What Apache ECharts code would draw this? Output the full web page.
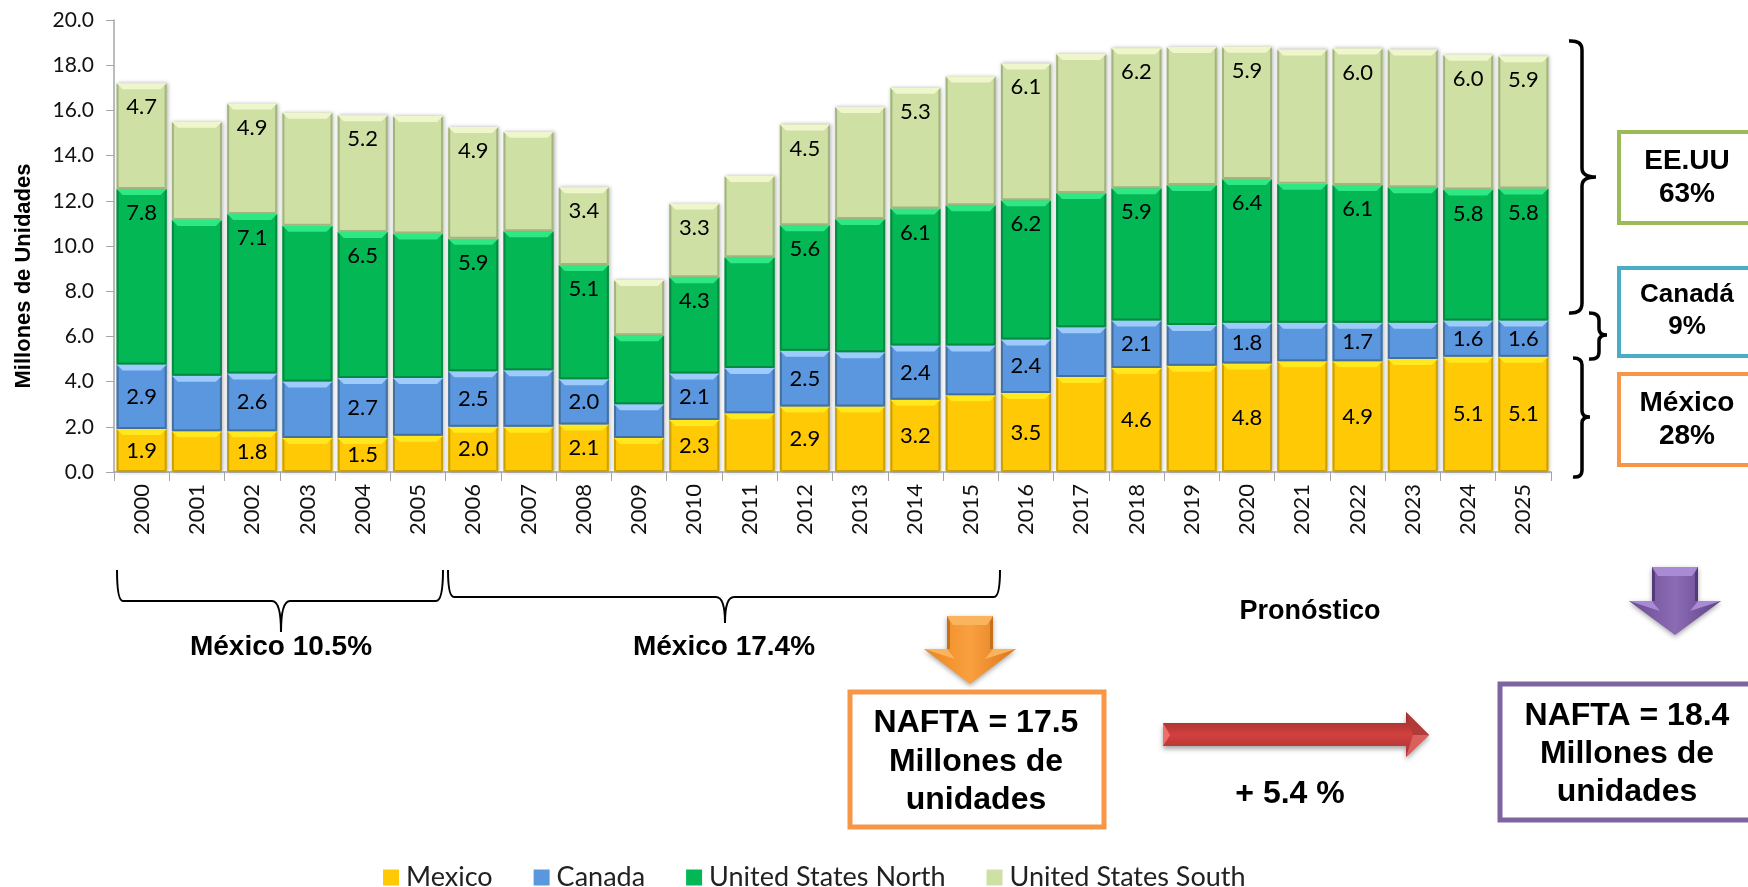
<!DOCTYPE html>
<html>
<head>
<meta charset="utf-8">
<title>NAFTA</title>
<script src="https://cdn.jsdelivr.net/npm/echarts@6/dist/echarts.min.js"></script>
<style>
	html, body { margin: 0; padding: 0; background: #fff; }
	#chart { width: 1748px; height: 887px; }
</style>
</head>
<body>
<div id="chart"></div>
<script>
const years = ['2000','2001','2002','2003','2004','2005','2006','2007','2008','2009','2010','2011','2012','2013','2014','2015','2016','2017','2018','2019','2020','2021','2022','2023','2024','2025']
const yTicks = [0, 2, 4, 6, 8, 10, 12, 14, 16, 18, 20]
const mexico = [1.9,1.8,1.8,1.5,1.5,1.6,2.0,2.0,2.1,1.5,2.3,2.6,2.9,2.9,3.2,3.4,3.5,4.2,4.6,4.7,4.8,4.9,4.9,5.0,5.1,5.1]
const canada = [2.86,2.46,2.56,2.5,2.66,2.56,2.46,2.5,2.0,1.5,2.06,2.0,2.46,2.4,2.4,2.2,2.36,2.2,2.1,1.8,1.8,1.7,1.7,1.6,1.6,1.6]
const usNorth = [7.76,6.89,7.06,6.9,6.46,6.39,5.86,6.15,5.06,3.05,4.26,4.9,5.56,5.9,6.06,6.2,6.16,5.95,5.86,6.2,6.36,6.15,6.1,6.0,5.8,5.84]
const usSouth = [4.68,4.35,4.88,5.0,5.16,5.2,4.94,4.4,3.44,2.45,3.26,3.6,4.46,4.95,5.34,5.7,6.06,6.15,6.19,6.1,5.86,5.95,6.04,6.1,5.96,5.86]
// only these years carry a value label in the original
const labeledYears = ['2000','2002','2004','2006','2008','2010','2012','2014','2016','2018','2020','2022','2024','2025']

const stacks = [
	{ name: 'Mexico', data: mexico, color: '#FFC905', light: '#FFE81E', dark: '#C9A008', inner: false },
	{ name: 'Canada', data: canada, color: '#5B97DF', light: '#9DCBFB', dark: '#44709F', inner: false },
	{ name: 'United States North', data: usNorth, color: '#04B755', light: '#2EE883', dark: '#068A42', inner: true },
	{ name: 'United States South', data: usSouth, color: '#CFE0A5', light: '#EFF6CC', dark: '#A3B47F', inner: true }
]

const BAR_W = 50
const LABEL_FONT = 'Lato'
const BOLD_FONT = '"Liberation Sans"'

// bevel on top of each stacked bar: item = [category, base, top, stack index]
const bevelData = []
stacks.forEach((s, si) => {
	s.data.forEach((v, i) => {
		let base = 0
		for (let k = 0; k < si; k++) base += stacks[k].data[i]
		bevelData.push([i, base, base + v, si])
	})
})

const renderBevel = (params, api) => {
	const top = api.coord([api.value(0), api.value(2)])
	const bottom = api.coord([api.value(0), api.value(1)])
	const s = stacks[api.value(3)]
	const l = top[0] - BAR_W / 2
	const r = top[0] + BAR_W / 2
	const t = top[1]
	const b = bottom[1]
	const poly = (points, fill) => ({ type: 'polygon', shape: { points }, style: { fill } })
	return {
		type: 'group',
		children: [
			poly([[l, t], [l + 2, t + 2], [l + 2, b - 2], [l, b]], s.dark),
			poly([[r, t], [r - 2, t + 2], [r - 2, b - 2], [r, b]], s.dark),
			poly([[l, b], [l + 2, b - 2], [r - 2, b - 2], [r, b]], s.dark),
			poly([[l, t], [r, t], [r - 6, t + 6], [l + 6, t + 6]], s.light)
		]
	}
}

const series = stacks.map(s => ({
	name: s.name,
	type: 'bar',
	stack: 'total',
	barWidth: BAR_W,
	data: s.data,
	itemStyle: { color: s.color, shadowBlur: 4, shadowColor: 'rgba(0,0,0,0.3)', shadowOffsetX: 1, shadowOffsetY: 0 },
	label: {
		show: true,
		position: s.inner ? 'insideTop' : 'inside',
		distance: 13,
		color: '#000',
		fontFamily: LABEL_FONT,
		fontSize: 22,
		formatter: p => labeledYears.includes(p.name) ? p.value.toFixed(1) : ''
	}
}))

series.push({
	name: 'bevel',
	type: 'custom',
	silent: true,
	z: 3,
	data: bevelData,
	renderItem: renderBevel,
	encode: { x: 0, y: 2 }
})

// annotations around the plot
const text = (str, x, y, size, rotation) => ({
	type: 'text',
	z: 10,
	x, y,
	rotation: rotation || 0,
	style: {
		text: str,
		x: 0, y: 0,
		textAlign: 'center',
		textVerticalAlign: 'middle',
		fill: '#000',
		font: `bold ${size}px ${BOLD_FONT}`
	}
})
const box = (x, y, width, height, color, lineWidth) => ({
	type: 'rect',
	z: 9,
	shape: { x, y, width, height },
	style: { fill: '#fff', stroke: color, lineWidth }
})
// the graphic component has no plain path type, so each brace gets its own shape class
let braceCount = 0
const brace = (d, lineWidth) => {
	const name = 'brace' + braceCount++
	echarts.graphic.registerShape(name, echarts.graphic.extendPath(d, {}))
	return { type: name, z: 9, shape: {}, style: { fill: 'none', stroke: '#000', lineWidth } }
}
const hGrad = (a, b, c) => ({ type: 'linear', x: 0, y: 0, x2: 1, y2: 0, colorStops: [{ offset: 0, color: a }, { offset: 0.5, color: b }, { offset: 1, color: c }] })
const facet = (points, fill) => ({ type: 'polygon', z: 9, shape: { points }, style: { fill } })
// down arrow with the lit facets of the original
const downArrow = (cx, top, neck, tip, shaft, head, fill, light, dark) => [
	{
		type: 'polygon',
		z: 9,
		shape: { points: [[cx - shaft, top], [cx + shaft, top], [cx + shaft, neck], [cx + head, neck], [cx, tip], [cx - head, neck], [cx - shaft, neck]] },
		style: { fill, shadowBlur: 5, shadowColor: 'rgba(0,0,0,0.35)', shadowOffsetY: 2 }
	},
	facet([[cx - shaft, top], [cx + shaft, top], [cx + shaft - 6, top + 9], [cx - shaft + 6, top + 9]], light),
	facet([[cx - head, neck], [cx - shaft, neck], [cx - shaft + 8, neck + 10]], light),
	facet([[cx + head, neck], [cx + shaft, neck], [cx + shaft - 8, neck + 10]], light),
	facet([[cx - shaft, top], [cx - shaft + 3, top + 6], [cx - shaft + 3, neck], [cx - shaft, neck]], dark),
	facet([[cx + shaft, top], [cx + shaft - 3, top + 6], [cx + shaft - 3, neck], [cx + shaft, neck]], dark)
]

const graphics = [
	text('Millones de Unidades', 24, 276, 22, Math.PI / 2),

	// right side braces
	brace('M1569 41 Q1582 40 1582 50 L1582 168 Q1582 177 1596 177 Q1582 177 1582 186 L1582 303 Q1582 314 1569 313', 3.5),
	brace('M1589 313 Q1599 313 1599 320 L1599 329 Q1599 335 1607 335 Q1599 335 1599 341 L1599 352 Q1599 360 1589 359', 3.5),
	brace('M1573 358 Q1582 358 1582 365 L1582 411 Q1582 417 1590 417 Q1582 417 1582 423 L1582 470 Q1582 478 1573 477', 3.5),

	box(1619, 132, 150, 91, '#9BBB59', 4),
	text('EE.UU', 1687, 161, 28),
	text('63%', 1687, 194, 28),
	box(1619, 268, 150, 88, '#4BACC6', 4),
	text('Canadá', 1687, 295, 26),
	text('9%', 1687, 327, 26),
	box(1619, 374, 150, 91, '#F79646', 4),
	text('México', 1687, 403, 28),
	text('28%', 1687, 436, 28),

	// bottom braces
	brace('M117 570 Q117 601 123 601 L272 601 Q281 601 281 632 Q281 601 290 601 L436 601 Q443 601 443 570', 2),
	brace('M448 570 Q448 597 454 597 L716 597 Q725 597 725 623 Q725 597 734 597 L994 597 Q1000 597 1000 570', 2),
	text('México 10.5%', 281, 647, 28),
	text('México 17.4%', 724, 647, 28),
	text('Pronóstico', 1310, 612, 27),

	...downArrow(970, 616, 649, 684, 23, 46, hGrad('#E9861E', '#FAA040', '#D9771A'), '#FBB45E', '#C96F18'),
	...downArrow(1675, 567, 601, 635, 23, 46, hGrad('#6A4C93', '#8C6BB5', '#5F4386'), '#A98AD4', '#533A78'),

	box(850, 692, 254, 135, '#F79646', 5),
	text('NAFTA = 17.5', 976, 723, 32),
	text('Millones de', 976, 762, 32),
	text('unidades', 976, 800, 32),

	{
		type: 'polygon',
		z: 9,
		shape: { points: [[1163, 723], [1406, 723], [1406, 712], [1429, 735], [1406, 757], [1406, 746], [1163, 746]] },
		style: {
			fill: { type: 'linear', x: 0, y: 0, x2: 0, y2: 1, colorStops: [{ offset: 0, color: '#8E2A28' }, { offset: 0.5, color: '#D2403E' }, { offset: 1, color: '#A53331' }] },
			shadowBlur: 5, shadowColor: 'rgba(0,0,0,0.35)', shadowOffsetY: 3
		}
	},
	facet([[1163, 723], [1170, 735], [1163, 746]], '#EE6E6B'),
	facet([[1406, 712], [1429, 735], [1413, 735]], '#B23A38'),
	facet([[1406, 757], [1429, 735], [1413, 735]], '#D9605D'),
	text('+ 5.4 %', 1290, 794, 32),

	box(1500, 684, 270, 136, '#8064A2', 5),
	text('NAFTA = 18.4', 1627, 716, 32),
	text('Millones de', 1627, 754, 32),
	text('unidades', 1627, 792, 32)
]

const chart = echarts.init(document.getElementById('chart'), null, { renderer: 'canvas' })
chart.setOption({
	animation: false,
	backgroundColor: '#fff',
	grid: { left: 114, top: 20, width: 1437, height: 452, containLabel: false },
	legend: {
		data: stacks.map(s => s.name),
		left: 378,
		top: 859,
		icon: 'rect',
		itemWidth: 16,
		itemHeight: 16,
		itemGap: 41,
		textStyle: { fontFamily: LABEL_FONT, fontSize: 27, color: '#222', padding: [0, 0, 0, 2] }
	},
	xAxis: {
		type: 'category',
		data: years,
		axisLine: { lineStyle: { color: '#A6A6A6', width: 1.5 } },
		axisTick: { show: true, length: 9, alignWithLabel: false, lineStyle: { color: '#A6A6A6' } },
		axisLabel: { rotate: 90, interval: 0, margin: 12, color: '#111', fontFamily: LABEL_FONT, fontSize: 22 }
	},
	yAxis: {
		type: 'value',
		min: yTicks[0],
		max: yTicks[yTicks.length - 1],
		interval: 2,
		axisLine: { show: true, lineStyle: { color: '#A6A6A6', width: 1.5 } },
		axisTick: { show: true, length: 8, lineStyle: { color: '#A6A6A6' } },
		splitLine: { show: false },
		axisLabel: { margin: 20, color: '#111', fontFamily: LABEL_FONT, fontSize: 21, formatter: v => v.toFixed(1) }
	},
	series: series,
	graphic: graphics
})
</script>
</body>
</html>
